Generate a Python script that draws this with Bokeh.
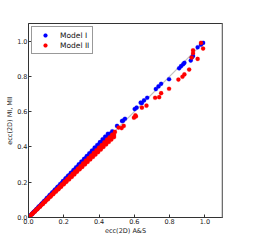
from bokeh.plotting import figure
from bokeh.models import Range1d, FixedTicker, Legend, LegendItem, Span
from bokeh.embed import file_html
from bokeh.resources import INLINE

# ---- data ----
ticks = [0.0, 0.2, 0.4, 0.6, 0.8, 1.0]
tick_labels = {0.0: "0.0", 0.2: "0.2", 0.4: "0.4", 0.6: "0.6", 0.8: "0.8", 1.0: "1.0"}
diag_x = [0.0, 1.0]
diag_y = [0.0, 1.0]

m1_x = [0.005, 0.02, 0.035, 0.05, 0.065, 0.08, 0.095, 0.11, 0.125, 0.14, 0.155, 0.17, 0.185, 0.20,
        0.215, 0.23, 0.245, 0.26, 0.275, 0.29, 0.305, 0.32, 0.335, 0.35, 0.365, 0.38, 0.395, 0.41,
        0.425, 0.44, 0.455, 0.47,
        0.01, 0.025, 0.04, 0.055, 0.07, 0.085, 0.10, 0.115, 0.13, 0.145, 0.16, 0.175, 0.19, 0.205,
        0.22, 0.235, 0.25, 0.265, 0.28, 0.295, 0.31, 0.325, 0.34, 0.355, 0.37, 0.385, 0.40, 0.415,
        0.43, 0.445, 0.46, 0.475,
        0.015, 0.03, 0.045, 0.06, 0.075, 0.09, 0.105, 0.12, 0.135, 0.15, 0.165, 0.18, 0.195, 0.21,
        0.225, 0.24, 0.255, 0.27, 0.285, 0.30, 0.315, 0.33, 0.345, 0.36, 0.375, 0.39, 0.405, 0.42,
        0.435, 0.45,
        0.502, 0.530, 0.536, 0.547, 0.602, 0.613, 0.636, 0.643, 0.655, 0.673, 0.722, 0.737,
        0.752, 0.797, 0.854, 0.865, 0.877, 0.884, 0.920, 0.926, 0.933, 0.959, 0.978, 0.990]
m1_y = [0.005, 0.020, 0.035, 0.050, 0.065, 0.080, 0.095, 0.111, 0.126, 0.141, 0.156, 0.171, 0.186, 0.201,
        0.216, 0.231, 0.246, 0.261, 0.276, 0.291, 0.307, 0.322, 0.337, 0.352, 0.367, 0.382, 0.397, 0.412,
        0.427, 0.442, 0.457, 0.472,
        0.010, 0.026, 0.041, 0.057, 0.072, 0.088, 0.103, 0.118, 0.134, 0.149, 0.165, 0.180, 0.196, 0.211,
        0.227, 0.242, 0.258, 0.273, 0.288, 0.304, 0.319, 0.335, 0.350, 0.366, 0.381, 0.397, 0.412, 0.427,
        0.443, 0.458, 0.474, 0.489,
        0.016, 0.032, 0.047, 0.063, 0.079, 0.095, 0.111, 0.127, 0.142, 0.158, 0.174, 0.190, 0.206, 0.222,
        0.237, 0.253, 0.269, 0.285, 0.301, 0.317, 0.332, 0.348, 0.364, 0.380, 0.396, 0.411, 0.427, 0.443,
        0.459, 0.475,
        0.519, 0.547, 0.549, 0.560, 0.615, 0.623, 0.651, 0.649, 0.664, 0.679, 0.728, 0.743,
        0.758, 0.784, 0.846, 0.858, 0.869, 0.877, 0.890, 0.907, 0.916, 0.965, 0.980, 0.990]

m2_x = [0.01, 0.025, 0.04, 0.055, 0.07, 0.085, 0.10, 0.115, 0.13, 0.145, 0.16, 0.175, 0.19, 0.205,
        0.22, 0.235, 0.25, 0.265, 0.28, 0.295, 0.31, 0.325, 0.34, 0.355, 0.37, 0.385, 0.40, 0.415,
        0.43, 0.445, 0.46, 0.475, 0.49,
        0.005, 0.02, 0.035, 0.05, 0.065, 0.08, 0.095, 0.11, 0.125, 0.14, 0.155, 0.17, 0.185, 0.20,
        0.215, 0.23, 0.245, 0.26, 0.275, 0.29, 0.305, 0.32, 0.335, 0.35, 0.365, 0.38, 0.395, 0.41,
        0.425, 0.44, 0.455, 0.47, 0.485,
        0.005, 0.02, 0.035, 0.05, 0.065, 0.08, 0.095, 0.11, 0.125, 0.14, 0.155, 0.17, 0.185, 0.20,
        0.215, 0.23, 0.245, 0.26, 0.275, 0.29, 0.305, 0.32, 0.335, 0.35, 0.365, 0.38, 0.395, 0.41,
        0.425, 0.44, 0.455, 0.47, 0.485,
        0.511, 0.528, 0.540, 0.598, 0.606, 0.609, 0.643, 0.669, 0.718, 0.741, 0.752, 0.797,
        0.850, 0.873, 0.884, 0.911, 0.925, 0.933, 0.933, 0.959, 0.978, 0.990]
m2_y = [0.010, 0.025, 0.040, 0.054, 0.069, 0.084, 0.099, 0.114, 0.129, 0.144, 0.158, 0.173, 0.188, 0.203,
        0.218, 0.233, 0.248, 0.262, 0.277, 0.292, 0.307, 0.322, 0.337, 0.351, 0.366, 0.381, 0.396, 0.411,
        0.426, 0.441, 0.455, 0.470, 0.485,
        0.005, 0.019, 0.034, 0.048, 0.063, 0.077, 0.092, 0.106, 0.121, 0.135, 0.150, 0.164, 0.179, 0.193,
        0.207, 0.222, 0.236, 0.251, 0.265, 0.280, 0.294, 0.309, 0.323, 0.338, 0.352, 0.367, 0.381, 0.396,
        0.410, 0.425, 0.439, 0.454, 0.468,
        0.005, 0.019, 0.033, 0.047, 0.061, 0.075, 0.089, 0.103, 0.118, 0.132, 0.146, 0.160, 0.174, 0.188,
        0.202, 0.216, 0.230, 0.244, 0.259, 0.273, 0.287, 0.301, 0.315, 0.329, 0.343, 0.357, 0.371, 0.385,
        0.400, 0.414, 0.428, 0.442, 0.456,
        0.510, 0.507, 0.519, 0.566, 0.579, 0.573, 0.623, 0.634, 0.679, 0.682, 0.705, 0.730,
        0.782, 0.798, 0.811, 0.839, 0.907, 0.932, 0.948, 0.899, 0.990, 0.958]

x_label = "ecc(2D) A&S"
y_label = "ecc(2D) MI, MII"
series_names = ["Model I", "Model II"]

FONT = "DejaVu Sans"
DARK = "#333333"

p = figure(width=249, height=238, output_backend="svg", toolbar_location=None,
           x_range=Range1d(0, 1.1), y_range=Range1d(0, 1.1),
           min_border_left=28, min_border_right=27, min_border_top=23, min_border_bottom=21)
p.background_fill_color = "white"
p.border_fill_color = "white"
p.outline_line_color = DARK
p.outline_line_width = 1
p.grid.visible = False

for ax in (p.xaxis[0], p.yaxis[0]):
    ax.ticker = FixedTicker(ticks=ticks)
    ax.major_label_overrides = tick_labels
    ax.major_tick_in = 3
    ax.major_tick_out = 0
    ax.minor_tick_in = 0
    ax.minor_tick_out = 0
    ax.axis_line_color = DARK
    ax.major_tick_line_color = DARK
    ax.major_label_text_font = FONT
    ax.major_label_text_font_size = "6.5px"
    ax.major_label_text_color = "#222222"
    ax.major_label_standoff = 1
    ax.axis_label_text_font = FONT
    ax.axis_label_text_font_size = "6.5px"
    ax.axis_label_text_font_style = "normal"
    ax.axis_label_text_color = "#222222"
    ax.axis_label_standoff = 0

p.xaxis[0].axis_label = x_label
p.yaxis[0].axis_label = y_label

# light grey right spine as in the reference
p.add_layout(Span(location=1.1, dimension="height", line_color="#aaaaaa", line_width=2))

p.line(diag_x, diag_y, line_color="#c0c0c0", line_width=1.2)

r1 = p.scatter(m1_x, m1_y, size=4.2, fill_color="#0000ff", line_color="#0000ff", line_width=0.2)
r2 = p.scatter(m2_x, m2_y, size=4.2, fill_color="#ff0000", line_color="#ff0000", line_width=0.2)

legend = Legend(items=[LegendItem(label=series_names[0], renderers=[r1]),
                       LegendItem(label=series_names[1], renderers=[r2])],
                location="top_left")
legend.label_text_font = FONT
legend.label_text_font_size = "7.5px"
legend.label_text_color = "#111111"
legend.border_line_color = DARK
legend.border_line_width = 1
legend.background_fill_alpha = 1
legend.margin = 3
legend.padding = 3
legend.spacing = 0
legend.glyph_width = 20
legend.glyph_height = 10
legend.label_height = 10
legend.label_standoff = 5
p.add_layout(legend)

open("out.html", "w").write(file_html(p, INLINE))
